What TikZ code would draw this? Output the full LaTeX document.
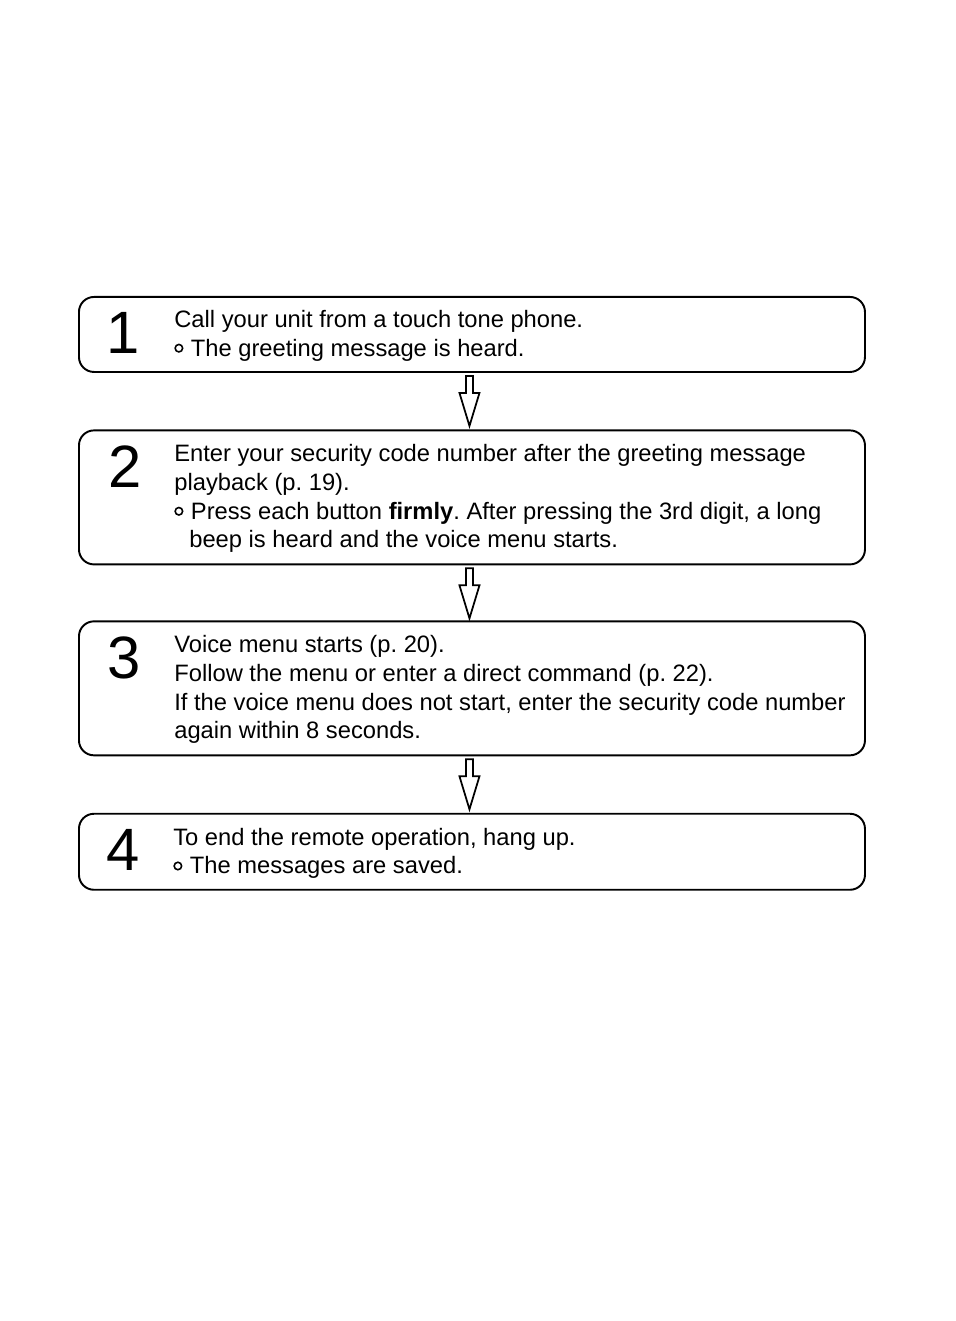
\documentclass[tikz,border=0pt]{standalone}
\usepackage{fontspec}
\setmainfont{Liberation Sans}
\usetikzlibrary{positioning, calc}

\newcommand{\opendot}{\tikz[baseline=0pt]\draw[line width=0.9pt] (0.075,0.16) circle (0.075);\hspace{0.15cm}}
\frenchspacing

\begin{document}
\begin{tikzpicture}[
    stepbox/.style={draw, line width=1.1pt, rounded corners=0.3cm, minimum width=15.72cm, inner sep=0},
    stepnum/.style={font=\fontsize{34}{34}\selectfont, inner sep=0, anchor=north},
    steptext/.style={font=\fontsize{13.5}{16.3}\selectfont, align=left, inner sep=0, anchor=north west},
    flowarrow/.style={draw, line width=1pt, fill=white, line join=miter},
]
    \useasboundingbox (0,0) rectangle (19.1,-26.42);

    % Step boxes
    \node[stepbox, minimum height=1.5cm, anchor=north west] (box1) at (1.56,-5.92) {};
    \node[stepbox, minimum height=2.68cm, below=1.13cm of box1] (box2) {};
    \node[stepbox, minimum height=2.68cm, below=1.1cm of box2] (box3) {};
    \node[stepbox, minimum height=1.52cm, below=1.13cm of box3] (box4) {};

    % Step numbers
    \node[stepnum] (num1) at ([shift={(0.9,-0.32)}]box1.north west) {1};
    \node[stepnum] (num2) at ([shift={(0.94,-0.32)}]box2.north west) {2};
    \node[stepnum] (num3) at ([shift={(0.92,-0.32)}]box3.north west) {3};
    \node[stepnum] (num4) at ([shift={(0.9,-0.32)}]box4.north west) {4};

    % Step texts
    \node[steptext] (txt1) at ([shift={(1.92,-0.28)}]box1.north west)
        {Call your unit from a touch tone phone.\\
         \opendot The greeting message is heard.};
    \node[steptext] (txt2) at ([shift={(1.92,-0.3)}]box2.north west)
        {Enter your security code number after the greeting message\\
         playback (p. 19).\\
         \opendot Press each button \textbf{firmly}. After pressing the 3rd digit, a long\\
         \hspace*{0.3cm}beep is heard and the voice menu starts.};
    \node[steptext] (txt3) at ([shift={(1.92,-0.3)}]box3.north west)
        {Voice menu starts (p. 20).\\
         Follow the menu or enter a direct command (p. 22).\\
         If the voice menu does not start, enter the security code number\\
         again within 8 seconds.};
    \node[steptext] (txt4) at ([shift={(1.9,-0.3)}]box4.north west)
        {To end the remote operation, hang up.\\
         \opendot The messages are saved.};

    % Block arrows between steps
    \foreach \from/\to in {box1/box2, box2/box3, box3/box4} {
        \coordinate (top-\from) at ([shift={(-0.05,-0.06)}]\from.south);
        \draw[flowarrow] (top-\from) ++(-0.07,0) -- ++(0,-0.34) -- ++(-0.13,0)
            -- ++(0.2,-0.66) -- ++(0.2,0.66) -- ++(-0.13,0) -- ++(0,0.34) -- cycle;
    }
\end{tikzpicture}
\end{document}
